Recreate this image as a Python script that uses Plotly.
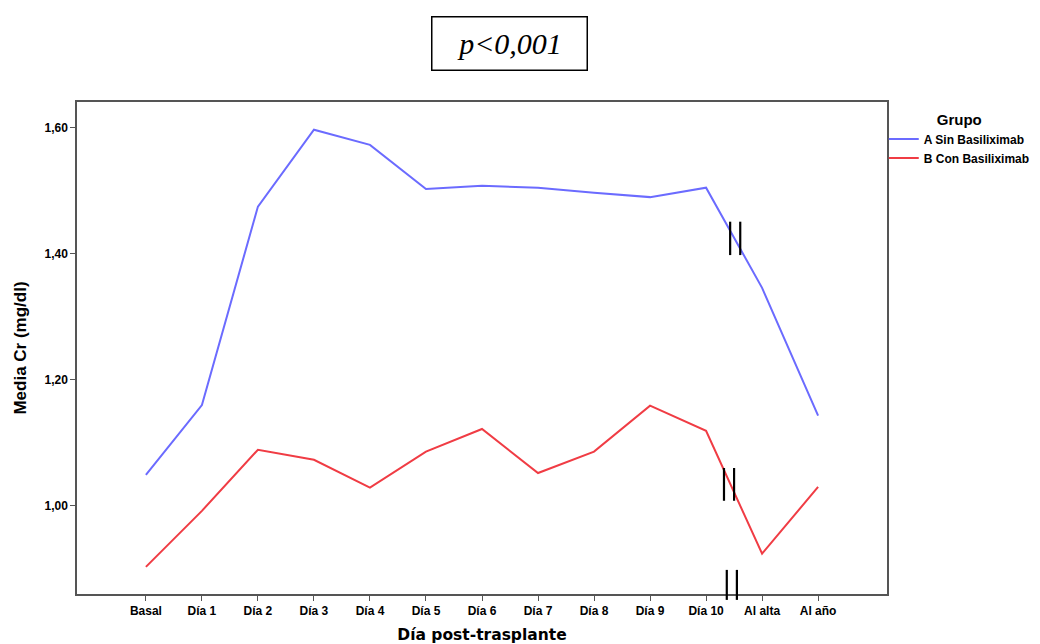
import plotly.graph_objects as go

categories = ["Basal", "Día 1", "Día 2", "Día 3", "Día 4", "Día 5", "Día 6",
              "Día 7", "Día 8", "Día 9", "Día 10", "Al alta", "Al año"]
grupo_a = [1.049, 1.160, 1.475, 1.597, 1.573, 1.503, 1.508, 1.505, 1.497,
           1.490, 1.505, 1.346, 1.143]
grupo_b = [0.903, 0.992, 1.089, 1.073, 1.029, 1.086, 1.122, 1.052, 1.086,
           1.159, 1.119, 0.924, 1.030]
series_names = ["A Sin Basiliximab", "B Con Basiliximab"]
colors = ["#6b6bff", "#f03c44"]

FONT = "Arial, 'Liberation Sans', sans-serif"

fig = go.Figure()
for name, vals, col in zip(series_names, [grupo_a, grupo_b], colors):
    fig.add_trace(go.Scatter(x=list(range(len(categories))), y=vals, mode="lines",
                             name=name, line=dict(color=col, width=2)))

# break marks (pairs of short vertical bars) between "Día 10" and "Al alta"
breaks = [  # (x centre, y low, y high, yref)
    (10.52, 1.398, 1.451, "y"),
    (10.41, 1.008, 1.060, "y"),
    (10.46, -0.012, 0.049, "paper"),
]
for xc, y0, y1, yr in breaks:
    for dx in (-0.09, 0.09):
        fig.add_shape(type="line", xref="x", yref=yr, x0=xc + dx, x1=xc + dx,
                      y0=y0, y1=y1, line=dict(color="black", width=2.2))

fig.add_annotation(xref="paper", yref="paper", x=(509 - 77) / 810, y=1 + (102 - 16) / 492,
                   yanchor="top", xanchor="center",
                   text="<i>p<0,001</i>", showarrow=False,
                   font=dict(family="'Liberation Serif', 'Times New Roman', serif",
                             size=30, color="black"),
                   width=152, height=50, bordercolor="black", borderwidth=1.5,
                   bgcolor="white")

axis_common = dict(showline=True, linecolor="#555555", linewidth=1.5, mirror=True,
                   ticks="outside", ticklen=5, tickcolor="#555555", showgrid=False,
                   zeroline=False, automargin=False,
                   tickfont=dict(family=FONT, size=12, color="black", weight="bold"))

fig.update_layout(
    width=1032, height=636,
    margin=dict(l=69, r=153, t=94, b=50, autoexpand=False),
    paper_bgcolor="white", plot_bgcolor="white",
    separators=",.",
    xaxis=dict(tickmode="array", tickvals=list(range(len(categories))), ticktext=categories,
               range=[-1.23, 13.23],
               title=dict(text="Día post-trasplante", standoff=12,
                          font=dict(family="'DejaVu Sans', Verdana, sans-serif", size=15.5,
                                    color="black", weight="bold")),
               **axis_common),
    yaxis=dict(range=[0.86, 1.641], tick0=0, dtick=0.2, tickformat=".2f",
               title=dict(text="Media Cr (mg/dl)", standoff=14,
                          font=dict(family=FONT, size=17, color="black", weight="bold")),
               **axis_common),
    legend=dict(x=0.996, y=1 - (105 - 102) / 492, xanchor="left", yanchor="top",
                title=dict(text="Grupo", side="top center",
                           font=dict(family=FONT, size=15, color="black", weight="bold")),
                font=dict(family=FONT, size=12, color="black", weight="bold"),
                tracegroupgap=0, itemwidth=30, bgcolor="rgba(0,0,0,0)"),
    showlegend=True,
)

fig.write_html("out.html")
